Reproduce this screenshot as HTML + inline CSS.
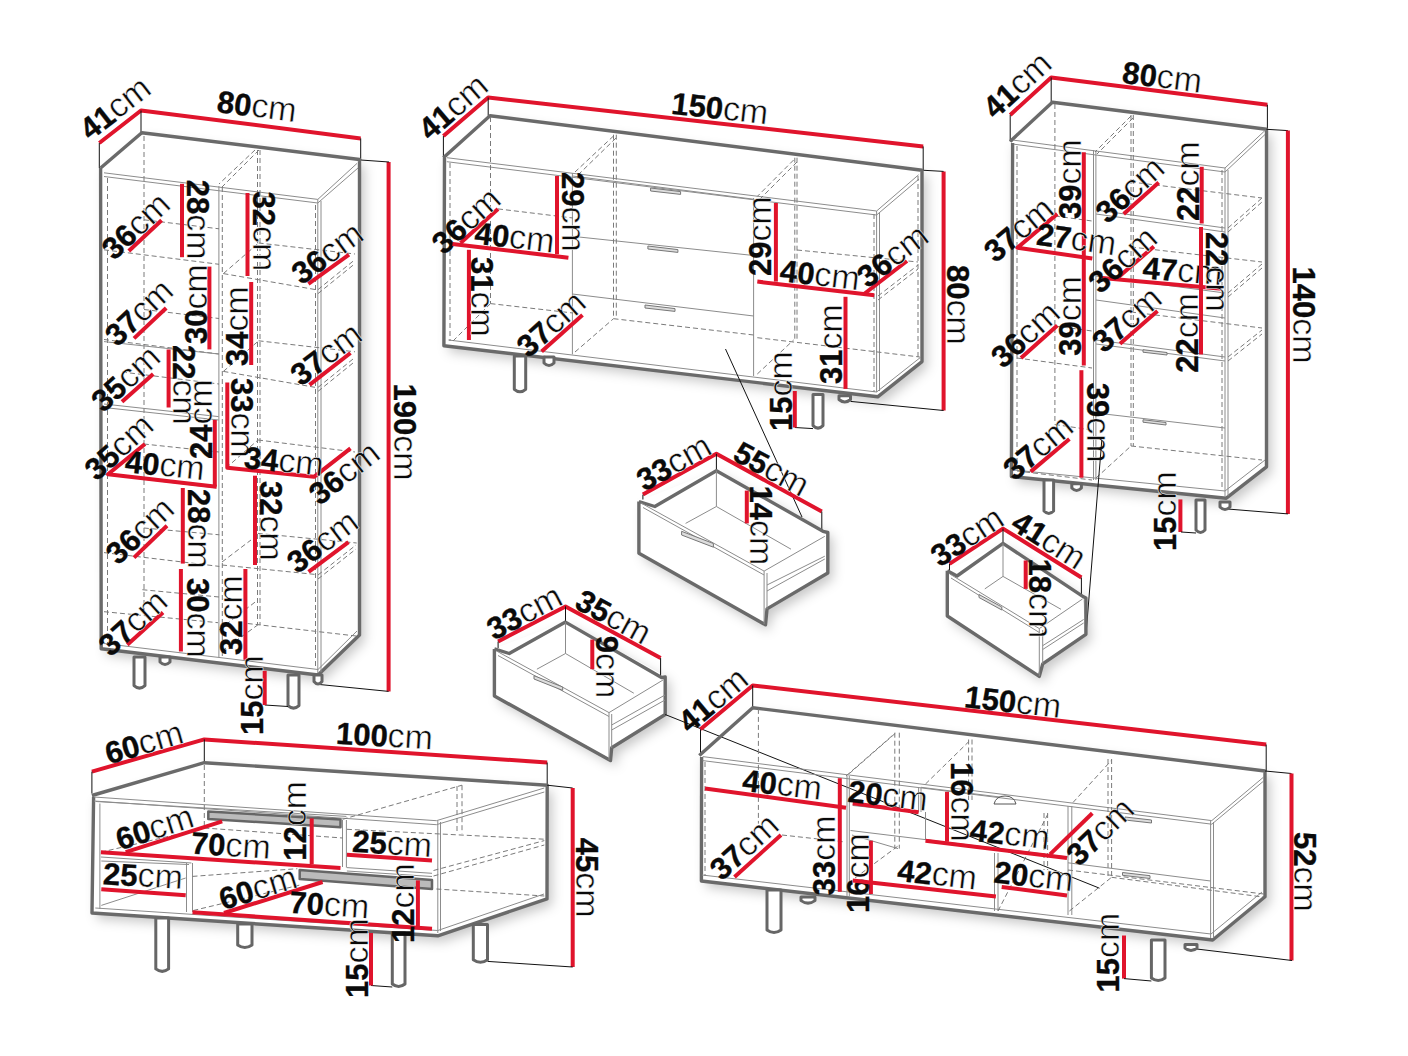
<!DOCTYPE html>
<html><head><meta charset="utf-8"><style>
html,body{margin:0;padding:0;background:#fff;}
svg{display:block;}
polyline,polygon,path{fill:none;stroke-linejoin:round;stroke-linecap:butt;}
.k{stroke:#6a6a6a;stroke-width:3.4;}
.s{stroke:#8c8c8c;stroke-width:1;}
.b{stroke:#111;stroke-width:1;}
.d{stroke:#7a7a7a;stroke-width:1;stroke-dasharray:5 3;}
.r{stroke:#e0142c;stroke-width:4;}
.leg{stroke:#666;stroke-width:3;fill:#fff;}
.h{stroke:#777;stroke-width:1;fill:#ddd;}
.w{fill:#fff;stroke:none;}
.sh{fill:#fff;stroke:none;filter:url(#ds);}
.slot{fill:#bbb;stroke:#666;stroke-width:2.5;}
text{font-family:"Liberation Sans",sans-serif;fill:#0a0a0a;text-anchor:middle;}
.n{font-weight:bold;stroke:#0a0a0a;stroke-width:0.35px;}
.c{font-weight:normal;stroke:#fff;stroke-width:0.5px;}
</style></head><body>
<svg width="1408" height="1056" viewBox="0 0 1408 1056">
<defs><filter id="ds" x="-20%" y="-20%" width="140%" height="140%"><feDropShadow dx="5" dy="6" stdDeviation="6" flood-color="#000" flood-opacity="0.22"/></filter></defs>
<polygon class="sh" points="100.6,168.0 141.8,132.8 359.5,159.5 359.5,635.0 318.0,675.0 101.2,648.8"/>
<polygon class="sh" points="443.4,157.7 490.0,115.7 922.0,170.2 922.0,361.6 877.7,396.8 443.9,345.7"/>
<polygon class="sh" points="1010.2,141.4 1052.4,102.3 1266.5,129.3 1266.5,466.8 1226.3,498.2 1011.4,476.5"/>
<polygon class="sh" points="91.9,795.5 204.3,762.7 547.2,785.2 547.0,898.9 437.8,935.8 92.0,913.0"/>
<polygon class="sh" points="699.3,755.5 752.7,707.7 1265.0,771.0 1265.0,896.8 1212.7,940.0 701.4,881.0"/>
<polygon class="sh" points="947.3,570.7 1003.0,543.4 1082.5,596.8 1085.9,634.3 1042.7,663.9 1039.3,676.4 947.3,616.0"/>
<polygon class="sh" points="638.9,501.5 716.4,470.7 827.8,532.3 827.8,573.0 767.0,608.9 764.1,624.8 638.9,553.2"/>
<polygon class="sh" points="494.4,648.9 565.5,622.1 665.2,676.6 665.2,714.5 611.7,747.7 611.7,760.6 494.4,696.0"/>
<polyline class="r" points="99.3,143.0 141.0,110.5 360.7,138.4"/>
<polyline class="b" points="99.3,143.0 99.3,168.0"/>
<polyline class="b" points="141.0,110.5 141.0,133.0"/>
<polyline class="b" points="360.7,138.4 360.7,160.0"/>
<polyline class="r" points="388.6,162.0 388.6,691.4"/>
<polyline class="b" points="360.7,160.0 389.0,162.0"/>
<polyline class="b" points="319.6,684.5 388.6,691.4"/>
<text transform="translate(115.0,108.0) rotate(-37.9)" x="0" y="11.1"><tspan class="n" style="font-size:31px">41</tspan><tspan class="c" style="font-size:34px">cm</tspan></text>
<text transform="translate(257.0,106.0) rotate(7.2)" x="0" y="11.1"><tspan class="n" style="font-size:31px">80</tspan><tspan class="c" style="font-size:34px">cm</tspan></text>
<text transform="translate(405.0,432.0) rotate(90.0)" x="0" y="11.1"><tspan class="n" style="font-size:31px">190</tspan><tspan class="c" style="font-size:34px">cm</tspan></text>
<polyline class="k" points="100.6,168.0 141.8,132.8 359.5,159.5 359.5,635.0 318.0,675.0 101.2,648.8 100.6,168.0"/>
<polyline class="s" points="104.0,172.8 317.8,199.4 357.0,163.4"/>
<polyline class="s" points="104.0,176.5 317.8,203.0 358.0,168.0"/>
<polyline class="s" points="317.8,199.4 317.8,673.0"/>
<polyline class="s" points="321.0,201.0 321.0,672.0"/>
<polyline class="s" points="104.0,643.5 318.0,669.5 357.0,631.0"/>
<polyline class="d" points="107.5,178.0 107.5,643.0"/>
<polyline class="d" points="144.0,136.0 144.0,612.0"/>
<polyline class="d" points="257.5,150.0 257.5,625.0"/>
<polyline class="d" points="260.0,150.0 260.0,625.0"/>
<polyline class="d" points="315.5,205.0 315.5,668.0"/>
<polyline class="s" points="218.9,186.0 218.9,657.0"/>
<polyline class="d" points="222.3,187.0 222.3,657.0"/>
<polyline class="d" points="259.0,150.0 222.0,187.0"/>
<polyline class="d" points="255.0,150.0 219.0,184.0"/>
<polyline class="d" points="104.0,249.8 219.0,264.3"/>
<polyline class="d" points="144.0,219.8 219.0,228.8"/>
<polyline class="d" points="104.0,339.5 219.0,354.0"/>
<polyline class="d" points="144.0,309.5 219.0,318.5"/>
<polyline class="s" points="104.0,341.6 218.6,354.0"/>
<polyline class="s" points="104.0,404.0 218.6,416.6"/>
<polyline class="s" points="104.0,407.5 218.6,420.0"/>
<polyline class="d" points="122.0,372.0 219.0,384.0"/>
<polyline class="s" points="101.0,474.0 216.6,488.0"/>
<polyline class="d" points="143.8,444.0 219.0,452.0"/>
<polyline class="d" points="104.0,552.6 219.3,566.4"/>
<polyline class="d" points="143.8,528.0 219.3,534.8"/>
<polyline class="d" points="104.0,611.7 218.0,622.7"/>
<polyline class="d" points="142.4,589.7 219.0,597.0"/>
<polyline class="d" points="223.4,273.6 315.5,289.6"/>
<polyline class="d" points="258.6,243.0 355.0,254.0"/>
<polyline class="d" points="223.4,273.6 258.6,243.0"/>
<polyline class="d" points="318.0,289.6 355.0,259.6"/>
<polyline class="d" points="318.0,293.6 355.0,263.6"/>
<polyline class="d" points="223.4,371.4 315.5,387.4"/>
<polyline class="d" points="258.6,340.8 355.0,351.8"/>
<polyline class="d" points="223.4,371.4 258.6,340.8"/>
<polyline class="d" points="318.0,387.4 355.0,357.4"/>
<polyline class="d" points="318.0,391.4 355.0,361.4"/>
<polyline class="d" points="222.0,565.0 316.9,574.6"/>
<polyline class="d" points="257.8,533.4 356.7,543.0"/>
<polyline class="d" points="219.3,629.6 257.8,600.0"/>
<polyline class="d" points="318.0,575.0 356.0,545.0"/>
<polyline class="d" points="318.0,579.0 356.0,549.0"/>
<polyline class="d" points="247.7,623.5 358.6,636.3"/>
<polyline class="d" points="222.0,651.0 259.7,623.5"/>
<polyline class="d" points="222.0,562.0 251.0,540.0"/>
<polyline class="d" points="226.0,468.0 258.0,440.0"/>
<polyline class="d" points="258.0,440.0 355.0,452.0"/>
<path class="leg" d="M134.0,657.0 L134.0,685.6 Q139.5,690.6 145.0,685.6 L145.0,657.0 Z"/>
<path class="leg" d="M160.0,657.0 L160.0,662.0 Q165.0,667.0 170.0,662.0 L170.0,657.0 Z"/>
<path class="leg" d="M288.0,675.0 L288.0,705.6 Q293.5,710.6 299.0,705.6 L299.0,675.0 Z"/>
<path class="leg" d="M314.0,675.0 L314.0,681.5 Q318.0,686.5 322.0,681.5 L322.0,675.0 Z"/>
<polyline class="b" points="264.7,705.0 288.0,706.5"/>
<polyline class="r" points="182.0,183.8 182.0,257.2"/>
<text transform="translate(198.3,219.7) rotate(90.0)" x="0" y="11.1"><tspan class="n" style="font-size:31px">28</tspan><tspan class="c" style="font-size:34px">cm</tspan></text>
<polyline class="r" points="247.5,193.0 247.5,276.0"/>
<text transform="translate(263.8,231.4) rotate(90.0)" x="0" y="11.1"><tspan class="n" style="font-size:31px">32</tspan><tspan class="c" style="font-size:34px">cm</tspan></text>
<polyline class="r" points="128.8,251.0 161.6,220.3"/>
<text transform="translate(135.6,226.0) rotate(-43.0)" x="0" y="11.1"><tspan class="n" style="font-size:31px">36</tspan><tspan class="c" style="font-size:34px">cm</tspan></text>
<polyline class="r" points="308.4,283.8 349.0,254.7"/>
<text transform="translate(327.2,253.0) rotate(-36.0)" x="0" y="11.1"><tspan class="n" style="font-size:31px">36</tspan><tspan class="c" style="font-size:34px">cm</tspan></text>
<polyline class="r" points="134.0,338.4 166.2,308.0"/>
<text transform="translate(138.8,312.5) rotate(-43.0)" x="0" y="11.1"><tspan class="n" style="font-size:31px">37</tspan><tspan class="c" style="font-size:34px">cm</tspan></text>
<polyline class="r" points="209.4,266.6 209.4,349.4"/>
<text transform="translate(196.0,304.0) rotate(-90.0)" x="0" y="11.1"><tspan class="n" style="font-size:31px">30</tspan><tspan class="c" style="font-size:34px">cm</tspan></text>
<polyline class="r" points="251.2,282.0 251.2,365.0"/>
<text transform="translate(237.0,326.0) rotate(-90.0)" x="0" y="11.1"><tspan class="n" style="font-size:31px">34</tspan><tspan class="c" style="font-size:34px">cm</tspan></text>
<polyline class="r" points="309.5,384.8 350.5,353.0"/>
<text transform="translate(326.0,354.0) rotate(-37.0)" x="0" y="11.1"><tspan class="n" style="font-size:31px">37</tspan><tspan class="c" style="font-size:34px">cm</tspan></text>
<polyline class="r" points="122.0,401.8 153.2,373.9"/>
<text transform="translate(125.5,378.6) rotate(-42.0)" x="0" y="11.1"><tspan class="n" style="font-size:31px">35</tspan><tspan class="c" style="font-size:34px">cm</tspan></text>
<polyline class="r" points="168.6,349.5 168.6,407.5"/>
<text transform="translate(184.0,385.0) rotate(90.0)" x="0" y="11.1"><tspan class="n" style="font-size:31px">22</tspan><tspan class="c" style="font-size:34px">cm</tspan></text>
<polyline class="r" points="214.8,420.0 214.8,486.7"/>
<text transform="translate(201.0,419.0) rotate(-90.0)" x="0" y="11.1"><tspan class="n" style="font-size:31px">24</tspan><tspan class="c" style="font-size:34px">cm</tspan></text>
<polyline class="r" points="227.3,382.5 227.3,467.7 314.0,476.8 350.5,448.4"/>
<text transform="translate(242.6,418.0) rotate(90.0)" x="0" y="11.1"><tspan class="n" style="font-size:31px">33</tspan><tspan class="c" style="font-size:34px">cm</tspan></text>
<text transform="translate(284.0,461.0) rotate(6.0)" x="0" y="11.1"><tspan class="n" style="font-size:31px">34</tspan><tspan class="c" style="font-size:34px">cm</tspan></text>
<polyline class="r" points="145.0,444.0 108.0,474.3 216.6,486.7"/>
<text transform="translate(165.0,465.0) rotate(6.0)" x="0" y="11.1"><tspan class="n" style="font-size:31px">40</tspan><tspan class="c" style="font-size:34px">cm</tspan></text>
<text transform="translate(118.6,447.0) rotate(-42.0)" x="0" y="11.1"><tspan class="n" style="font-size:31px">35</tspan><tspan class="c" style="font-size:34px">cm</tspan></text>
<text transform="translate(344.0,473.0) rotate(-38.0)" x="0" y="11.1"><tspan class="n" style="font-size:31px">36</tspan><tspan class="c" style="font-size:34px">cm</tspan></text>
<polyline class="r" points="182.8,488.0 182.8,563.6"/>
<text transform="translate(199.4,529.0) rotate(90.0)" x="0" y="11.1"><tspan class="n" style="font-size:31px">28</tspan><tspan class="c" style="font-size:34px">cm</tspan></text>
<polyline class="r" points="255.0,475.7 255.0,565.0"/>
<text transform="translate(270.8,521.0) rotate(90.0)" x="0" y="11.1"><tspan class="n" style="font-size:31px">32</tspan><tspan class="c" style="font-size:34px">cm</tspan></text>
<polyline class="r" points="134.0,557.6 167.0,525.7"/>
<text transform="translate(139.7,530.7) rotate(-43.0)" x="0" y="11.1"><tspan class="n" style="font-size:31px">36</tspan><tspan class="c" style="font-size:34px">cm</tspan></text>
<polyline class="r" points="308.6,571.9 348.5,542.2"/>
<text transform="translate(322.4,541.6) rotate(-37.0)" x="0" y="11.1"><tspan class="n" style="font-size:31px">36</tspan><tspan class="c" style="font-size:34px">cm</tspan></text>
<polyline class="r" points="127.3,644.7 163.0,612.5"/>
<text transform="translate(132.8,622.7) rotate(-42.0)" x="0" y="11.1"><tspan class="n" style="font-size:31px">37</tspan><tspan class="c" style="font-size:34px">cm</tspan></text>
<polyline class="r" points="180.9,569.0 180.9,651.5"/>
<text transform="translate(198.0,618.0) rotate(90.0)" x="0" y="11.1"><tspan class="n" style="font-size:31px">30</tspan><tspan class="c" style="font-size:34px">cm</tspan></text>
<polyline class="r" points="245.4,569.0 245.4,659.8"/>
<text transform="translate(231.0,615.0) rotate(-90.0)" x="0" y="11.1"><tspan class="n" style="font-size:31px">32</tspan><tspan class="c" style="font-size:34px">cm</tspan></text>
<polyline class="r" points="264.7,670.8 264.7,705.0"/>
<text transform="translate(252.0,695.0) rotate(-90.0)" x="0" y="11.1"><tspan class="n" style="font-size:31px">15</tspan><tspan class="c" style="font-size:34px">cm</tspan></text>
<polyline class="r" points="443.4,136.0 488.2,97.5 923.2,146.4"/>
<polyline class="b" points="443.4,136.0 443.4,157.7"/>
<polyline class="b" points="488.2,97.5 488.2,115.7"/>
<polyline class="b" points="923.2,146.4 923.2,170.2"/>
<polyline class="r" points="943.6,171.4 943.6,410.5"/>
<polyline class="b" points="922.0,170.2 943.6,171.4"/>
<polyline class="b" points="850.5,401.4 943.6,410.5"/>
<text transform="translate(453.0,107.0) rotate(-40.7)" x="0" y="11.1"><tspan class="n" style="font-size:31px">41</tspan><tspan class="c" style="font-size:34px">cm</tspan></text>
<text transform="translate(720.0,108.0) rotate(6.4)" x="0" y="11.1"><tspan class="n" style="font-size:31px">150</tspan><tspan class="c" style="font-size:34px">cm</tspan></text>
<text transform="translate(958.0,305.0) rotate(90.0)" x="0" y="11.1"><tspan class="n" style="font-size:31px">80</tspan><tspan class="c" style="font-size:34px">cm</tspan></text>
<polyline class="k" points="443.4,157.7 490.0,115.7 922.0,170.2 922.0,361.6 877.7,396.8 443.9,345.7 444.5,158.0"/>
<polyline class="s" points="446.8,157.7 876.6,211.0 918.6,174.8"/>
<polyline class="s" points="446.8,161.7 876.6,215.0 919.0,179.0"/>
<polyline class="s" points="876.6,211.0 876.6,392.0"/>
<polyline class="s" points="879.5,213.0 879.5,391.0"/>
<polyline class="s" points="448.4,340.0 876.6,392.0 921.0,357.0"/>
<polyline class="s" points="572.4,173.0 572.4,354.4"/>
<polyline class="s" points="753.6,198.0 753.6,376.0"/>
<polyline class="s" points="572.4,176.0 753.6,199.2"/>
<polyline class="s" points="572.4,236.3 753.6,255.5"/>
<polyline class="s" points="572.4,294.0 753.6,316.0"/>
<polygon class="h" points="650.6,188.0 680.6,191.6 680.6,194.4 650.6,191.0"/>
<polygon class="h" points="647.9,246.0 677.9,249.6 677.9,252.4 647.9,249.0"/>
<polygon class="h" points="645.0,305.0 675.0,308.6 675.0,311.4 645.0,308.0"/>
<polyline class="d" points="613.5,134.7 613.5,318.7"/>
<polyline class="d" points="616.3,134.7 616.3,318.7"/>
<polyline class="d" points="794.8,157.7 794.8,340.0"/>
<polyline class="d" points="797.0,157.7 797.0,340.0"/>
<polyline class="d" points="793.6,160.0 757.3,196.4"/>
<polyline class="d" points="797.0,162.0 760.0,199.0"/>
<polyline class="d" points="613.5,136.0 575.0,172.0"/>
<polyline class="d" points="616.0,138.0 578.0,175.0"/>
<polyline class="d" points="450.0,163.0 450.0,341.0"/>
<polyline class="d" points="490.5,117.0 490.5,303.6"/>
<polyline class="d" points="874.0,214.0 874.0,392.0"/>
<polyline class="d" points="918.0,176.0 918.0,357.0"/>
<polyline class="d" points="498.0,208.9 573.0,218.0"/>
<polyline class="d" points="490.5,303.6 573.0,313.0"/>
<polyline class="d" points="453.0,341.0 490.5,303.6"/>
<polyline class="d" points="797.0,250.0 918.0,262.0"/>
<polyline class="d" points="757.3,337.7 919.8,357.0"/>
<polyline class="d" points="757.3,374.0 793.6,340.0"/>
<polyline class="d" points="878.0,296.0 918.0,265.0"/>
<polyline class="d" points="878.0,300.0 918.0,269.0"/>
<polyline class="d" points="613.5,318.7 753.6,335.0"/>
<polyline class="d" points="575.0,352.0 613.5,318.7"/>
<path class="leg" d="M514.3,356.0 L514.3,389.3 Q520.0,394.3 525.7,389.3 L525.7,356.0 Z"/>
<path class="leg" d="M544.0,357.0 L544.0,363.0 Q549.0,368.0 554.0,363.0 L554.0,357.0 Z"/>
<path class="leg" d="M813.0,394.5 L813.0,425.6 Q818.0,430.6 823.0,425.6 L823.0,394.5 Z"/>
<path class="leg" d="M839.0,395.7 L839.0,399.5 Q844.8,404.5 850.5,399.5 L850.5,395.7 Z"/>
<polyline class="b" points="794.8,427.5 813.0,428.6"/>
<polyline class="r" points="557.0,176.0 557.0,254.3"/>
<text transform="translate(573.0,212.0) rotate(90.0)" x="0" y="11.1"><tspan class="n" style="font-size:31px">29</tspan><tspan class="c" style="font-size:34px">cm</tspan></text>
<polyline class="r" points="460.5,243.0 498.0,208.9"/>
<text transform="translate(466.0,220.7) rotate(-42.0)" x="0" y="11.1"><tspan class="n" style="font-size:31px">36</tspan><tspan class="c" style="font-size:34px">cm</tspan></text>
<polyline class="r" points="452.5,244.0 568.4,257.7"/>
<text transform="translate(514.8,237.0) rotate(6.7)" x="0" y="11.1"><tspan class="n" style="font-size:31px">40</tspan><tspan class="c" style="font-size:34px">cm</tspan></text>
<polyline class="r" points="468.9,249.8 468.9,340.0"/>
<text transform="translate(482.6,297.0) rotate(90.0)" x="0" y="11.1"><tspan class="n" style="font-size:31px">31</tspan><tspan class="c" style="font-size:34px">cm</tspan></text>
<polyline class="r" points="541.6,351.4 582.5,315.0"/>
<text transform="translate(551.0,324.0) rotate(-41.7)" x="0" y="11.1"><tspan class="n" style="font-size:31px">37</tspan><tspan class="c" style="font-size:34px">cm</tspan></text>
<polyline class="r" points="775.9,203.0 775.9,281.6"/>
<text transform="translate(759.6,236.0) rotate(-90.0)" x="0" y="11.1"><tspan class="n" style="font-size:31px">29</tspan><tspan class="c" style="font-size:34px">cm</tspan></text>
<polyline class="r" points="757.3,281.6 874.3,295.2"/>
<text transform="translate(820.0,274.7) rotate(6.7)" x="0" y="11.1"><tspan class="n" style="font-size:31px">40</tspan><tspan class="c" style="font-size:34px">cm</tspan></text>
<polyline class="r" points="864.0,294.0 907.0,261.0"/>
<text transform="translate(892.5,256.0) rotate(-37.5)" x="0" y="11.1"><tspan class="n" style="font-size:31px">36</tspan><tspan class="c" style="font-size:34px">cm</tspan></text>
<polyline class="r" points="845.5,296.8 845.5,388.9"/>
<text transform="translate(830.6,344.0) rotate(-90.0)" x="0" y="11.1"><tspan class="n" style="font-size:31px">31</tspan><tspan class="c" style="font-size:34px">cm</tspan></text>
<polyline class="r" points="794.8,391.0 794.8,427.5"/>
<text transform="translate(780.6,391.0) rotate(-90.0)" x="0" y="11.1"><tspan class="n" style="font-size:31px">15</tspan><tspan class="c" style="font-size:34px">cm</tspan></text>
<polyline class="b" points="725.5,349.0 802.0,517.0"/>
<polyline class="r" points="1010.2,114.9 1051.2,77.4 1267.4,104.7"/>
<polyline class="b" points="1010.2,114.9 1010.2,141.4"/>
<polyline class="b" points="1051.2,77.4 1051.2,102.8"/>
<polyline class="b" points="1267.4,104.7 1267.4,129.3"/>
<polyline class="k" points="1010.2,141.4 1052.4,102.3 1266.5,129.3 1266.5,466.8 1226.3,498.2 1011.4,476.5 1012.6,143.0"/>
<polyline class="b" points="1266.5,129.3 1287.9,130.6"/>
<polyline class="r" points="1287.9,130.6 1287.9,513.9"/>
<polyline class="b" points="1227.5,509.0 1287.9,513.9"/>
<polyline class="s" points="1013.8,140.2 1225.0,168.0 1265.0,130.5"/>
<polyline class="s" points="1013.8,144.2 1225.0,172.0 1265.0,134.5"/>
<polyline class="s" points="1225.0,168.0 1225.0,497.0"/>
<polyline class="s" points="1228.0,170.0 1228.0,496.0"/>
<polyline class="s" points="1013.8,470.0 1225.0,491.0 1265.0,460.0"/>
<polyline class="s" points="1093.5,150.0 1093.5,480.0"/>
<polyline class="s" points="1095.9,151.0 1095.9,480.0"/>
<text transform="translate(1017.0,85.0) rotate(-42.4)" x="0" y="11.1"><tspan class="n" style="font-size:31px">41</tspan><tspan class="c" style="font-size:34px">cm</tspan></text>
<text transform="translate(1162.3,76.7) rotate(7.2)" x="0" y="11.1"><tspan class="n" style="font-size:31px">80</tspan><tspan class="c" style="font-size:34px">cm</tspan></text>
<text transform="translate(1304.0,315.0) rotate(90.0)" x="0" y="11.1"><tspan class="n" style="font-size:31px">140</tspan><tspan class="c" style="font-size:34px">cm</tspan></text>
<polyline class="d" points="1054.9,104.0 1054.9,424.5"/>
<polyline class="d" points="1131.0,115.0 1131.0,446.0"/>
<polyline class="d" points="1133.3,115.0 1133.3,446.0"/>
<polyline class="d" points="1017.0,146.0 1017.0,470.0"/>
<polyline class="d" points="1131.0,116.0 1095.0,152.0"/>
<polyline class="d" points="1133.0,118.0 1097.0,154.0"/>
<polyline class="d" points="1222.0,170.0 1222.0,490.0"/>
<polyline class="d" points="1017.0,247.7 1092.0,258.0"/>
<polyline class="d" points="1054.9,216.0 1092.0,221.0"/>
<polyline class="d" points="1017.0,358.0 1092.0,368.0"/>
<polyline class="d" points="1054.9,326.0 1092.0,331.0"/>
<polyline class="d" points="1017.0,471.0 1092.0,480.0"/>
<polyline class="d" points="1054.9,424.5 1092.0,430.0"/>
<polyline class="s" points="1096.0,210.0 1225.0,228.0"/>
<polyline class="s" points="1096.0,214.0 1225.0,232.0"/>
<polyline class="d" points="1131.0,182.0 1262.0,198.0"/>
<polyline class="d" points="1228.0,228.0 1262.0,198.0"/>
<polyline class="d" points="1228.0,232.0 1262.0,202.0"/>
<polyline class="s" points="1096.0,276.0 1225.0,293.0"/>
<polyline class="d" points="1131.0,247.0 1262.0,262.0"/>
<polyline class="d" points="1228.0,293.0 1262.0,264.0"/>
<polyline class="d" points="1228.0,297.0 1262.0,268.0"/>
<polyline class="s" points="1096.0,300.0 1225.0,318.0"/>
<polyline class="s" points="1096.0,340.0 1225.0,357.0"/>
<polyline class="s" points="1096.0,344.0 1225.0,361.0"/>
<polyline class="d" points="1131.0,312.0 1262.0,328.0"/>
<polyline class="d" points="1228.0,357.0 1262.0,330.0"/>
<polyline class="d" points="1228.0,361.0 1262.0,334.0"/>
<polyline class="s" points="1096.0,413.0 1225.0,428.0"/>
<polyline class="d" points="1131.0,446.0 1262.0,460.0"/>
<polyline class="d" points="1096.0,478.0 1131.0,446.0"/>
<polygon class="h" points="1143.0,349.7 1167.0,352.5 1167.0,355.0 1143.0,352.2"/>
<polygon class="h" points="1143.0,419.7 1166.0,422.5 1166.0,425.0 1143.0,422.2"/>
<polyline class="r" points="1083.8,152.3 1083.8,365.4"/>
<text transform="translate(1070.0,179.0) rotate(-90.0)" x="0" y="11.1"><tspan class="n" style="font-size:31px">39</tspan><tspan class="c" style="font-size:34px">cm</tspan></text>
<text transform="translate(1070.0,315.8) rotate(-90.0)" x="0" y="11.1"><tspan class="n" style="font-size:31px">39</tspan><tspan class="c" style="font-size:34px">cm</tspan></text>
<polyline class="r" points="1057.3,213.9 1017.4,247.7 1092.3,258.5"/>
<text transform="translate(1076.5,239.0) rotate(8.0)" x="0" y="11.1"><tspan class="n" style="font-size:31px">27</tspan><tspan class="c" style="font-size:34px">cm</tspan></text>
<text transform="translate(1018.6,229.6) rotate(-40.0)" x="0" y="11.1"><tspan class="n" style="font-size:31px">37</tspan><tspan class="c" style="font-size:34px">cm</tspan></text>
<polyline class="r" points="1123.7,213.9 1158.7,182.5"/>
<text transform="translate(1129.7,189.7) rotate(-42.0)" x="0" y="11.1"><tspan class="n" style="font-size:31px">36</tspan><tspan class="c" style="font-size:34px">cm</tspan></text>
<polyline class="r" points="1201.7,166.8 1201.7,223.5"/>
<text transform="translate(1187.6,181.0) rotate(-90.0)" x="0" y="11.1"><tspan class="n" style="font-size:31px">22</tspan><tspan class="c" style="font-size:34px">cm</tspan></text>
<polyline class="r" points="1102.0,277.9 1221.5,288.7"/>
<polyline class="r" points="1118.9,276.7 1153.9,246.5"/>
<text transform="translate(1182.8,270.6) rotate(5.0)" x="0" y="11.1"><tspan class="n" style="font-size:31px">47</tspan><tspan class="c" style="font-size:34px">cm</tspan></text>
<text transform="translate(1122.5,259.7) rotate(-42.0)" x="0" y="11.1"><tspan class="n" style="font-size:31px">36</tspan><tspan class="c" style="font-size:34px">cm</tspan></text>
<polyline class="r" points="1201.0,227.0 1201.0,293.6"/>
<text transform="translate(1217.0,272.0) rotate(90.0)" x="0" y="11.1"><tspan class="n" style="font-size:31px">22</tspan><tspan class="c" style="font-size:34px">cm</tspan></text>
<polyline class="r" points="1201.0,289.3 1201.0,354.5"/>
<text transform="translate(1186.5,332.8) rotate(-90.0)" x="0" y="11.1"><tspan class="n" style="font-size:31px">22</tspan><tspan class="c" style="font-size:34px">cm</tspan></text>
<polyline class="r" points="1021.0,358.1 1057.3,325.5"/>
<text transform="translate(1025.2,334.5) rotate(-42.0)" x="0" y="11.1"><tspan class="n" style="font-size:31px">36</tspan><tspan class="c" style="font-size:34px">cm</tspan></text>
<polyline class="r" points="1120.0,343.7 1157.5,311.0"/>
<text transform="translate(1126.6,319.5) rotate(-41.0)" x="0" y="11.1"><tspan class="n" style="font-size:31px">37</tspan><tspan class="c" style="font-size:34px">cm</tspan></text>
<polyline class="r" points="1081.4,370.2 1081.4,477.7"/>
<text transform="translate(1097.8,422.7) rotate(90.0)" x="0" y="11.1"><tspan class="n" style="font-size:31px">39</tspan><tspan class="c" style="font-size:34px">cm</tspan></text>
<polyline class="r" points="1030.7,471.6 1069.4,439.0"/>
<text transform="translate(1038.0,447.5) rotate(-40.0)" x="0" y="11.1"><tspan class="n" style="font-size:31px">37</tspan><tspan class="c" style="font-size:34px">cm</tspan></text>
<path class="leg" d="M1044.0,480.0 L1044.0,510.9 Q1048.8,515.9 1053.6,510.9 L1053.6,480.0 Z"/>
<path class="leg" d="M1071.8,483.7 L1071.8,488.0 Q1076.6,493.0 1081.4,488.0 L1081.4,483.7 Z"/>
<path class="leg" d="M1196.0,500.0 L1196.0,530.0 Q1200.5,535.0 1205.0,530.0 L1205.0,500.0 Z"/>
<path class="leg" d="M1220.0,502.0 L1220.0,507.0 Q1225.0,512.0 1230.0,507.0 L1230.0,502.0 Z"/>
<polyline class="r" points="1180.4,499.4 1180.4,532.0"/>
<text transform="translate(1165.3,511.0) rotate(-90.0)" x="0" y="11.1"><tspan class="n" style="font-size:31px">15</tspan><tspan class="c" style="font-size:34px">cm</tspan></text>
<polyline class="b" points="1181.0,532.0 1196.0,533.0"/>
<polyline class="b" points="1101.8,440.0 1086.0,634.3"/>
<polygon class="w" points="947.3,570.7 1003.0,543.4 1082.5,596.8 1085.9,634.3 1042.7,663.9 1039.3,676.4 947.3,616.0"/>
<polyline class="r" points="949.5,563.9 1003.0,528.6 1081.4,577.5"/>
<polyline class="b" points="949.5,563.9 949.5,570.7"/>
<polyline class="b" points="1003.0,528.6 1003.0,543.4"/>
<polyline class="b" points="1081.4,577.5 1081.4,596.8"/>
<polyline class="k" points="947.3,570.7 957.0,576.0 1003.0,543.4 1083.5,596.8 1085.9,598.0 1085.9,634.3 1042.7,663.9 1039.3,676.4 947.3,616.0 947.3,570.7"/>
<polyline class="s" points="949.5,573.8 1039.3,628.6 1082.5,599.0"/>
<polyline class="s" points="951.0,578.0 1039.3,632.5"/>
<polyline class="s" points="1039.3,628.6 1039.3,676.0"/>
<polyline class="s" points="1042.7,630.0 1042.7,664.0"/>
<polyline class="s" points="1003.0,543.4 1003.0,576.4 984.8,588.9"/>
<polyline class="s" points="1003.0,576.4 1061.0,609.3"/>
<polyline class="s" points="1042.7,645.7 1083.6,619.5"/>
<polyline class="s" points="1042.7,649.5 1083.6,623.0"/>
<polygon class="h" points="979.0,594.5 1001.8,607.0 1001.8,610.0 979.0,597.5"/>
<text transform="translate(967.0,536.6) rotate(-33.4)" x="0" y="11.1"><tspan class="n" style="font-size:31px">33</tspan><tspan class="c" style="font-size:34px">cm</tspan></text>
<text transform="translate(1049.0,540.0) rotate(32.5)" x="0" y="11.1"><tspan class="n" style="font-size:31px">41</tspan><tspan class="c" style="font-size:34px">cm</tspan></text>
<polyline class="r" points="1025.7,560.5 1025.7,588.9"/>
<text transform="translate(1040.4,598.5) rotate(90.0)" x="0" y="11.1"><tspan class="n" style="font-size:31px">18</tspan><tspan class="c" style="font-size:34px">cm</tspan></text>
<polygon class="w" points="638.9,501.5 716.4,470.7 827.8,532.3 827.8,573.0 767.0,608.9 764.1,624.8 638.9,553.2"/>
<polyline class="r" points="642.9,494.6 716.4,453.8 821.8,511.5"/>
<polyline class="b" points="642.9,494.6 642.9,499.5"/>
<polyline class="b" points="716.4,453.8 716.4,470.7"/>
<polyline class="b" points="821.8,511.5 821.8,531.3"/>
<polyline class="k" points="638.9,501.5 654.8,506.5 716.4,470.7 823.0,531.3 827.8,532.5 827.8,573.0 767.0,608.9 765.5,624.8 638.9,553.2 638.9,501.5"/>
<polyline class="s" points="641.0,503.0 764.1,571.1 824.8,536.3"/>
<polyline class="s" points="643.0,507.5 764.1,575.0"/>
<polyline class="s" points="764.1,571.1 764.1,624.0"/>
<polyline class="s" points="767.0,573.0 767.0,609.0"/>
<polyline class="s" points="716.4,470.7 716.4,506.5 685.6,523.4"/>
<polyline class="s" points="716.4,506.5 791.0,549.2"/>
<polyline class="s" points="767.0,585.0 824.8,556.2"/>
<polyline class="s" points="767.0,591.0 824.8,559.0"/>
<polygon class="h" points="681.6,531.3 713.4,543.5 713.4,547.2 681.6,535.0"/>
<text transform="translate(673.7,462.7) rotate(-29.0)" x="0" y="11.1"><tspan class="n" style="font-size:31px">33</tspan><tspan class="c" style="font-size:34px">cm</tspan></text>
<text transform="translate(771.5,468.7) rotate(28.7)" x="0" y="11.1"><tspan class="n" style="font-size:31px">55</tspan><tspan class="c" style="font-size:34px">cm</tspan></text>
<polyline class="r" points="746.8,490.6 746.8,523.4"/>
<text transform="translate(761.6,525.4) rotate(90.0)" x="0" y="11.1"><tspan class="n" style="font-size:31px">14</tspan><tspan class="c" style="font-size:34px">cm</tspan></text>
<polygon class="w" points="494.4,648.9 565.5,622.1 665.2,676.6 665.2,714.5 611.7,747.7 611.7,760.6 494.4,696.0"/>
<polyline class="r" points="498.1,641.5 565.5,606.4 660.6,658.1"/>
<polyline class="b" points="498.1,641.5 498.1,648.0"/>
<polyline class="b" points="565.5,606.4 565.5,622.1"/>
<polyline class="b" points="660.6,658.1 660.6,677.5"/>
<polyline class="k" points="494.4,648.9 509.2,653.5 565.5,622.1 661.5,677.5 665.2,677.0 665.2,714.5 611.7,747.7 610.5,760.6 494.4,696.0 494.4,648.9"/>
<polyline class="s" points="496.5,651.0 609.0,712.6 663.0,680.0"/>
<polyline class="s" points="498.0,655.5 609.0,716.5"/>
<polyline class="s" points="609.0,712.6 609.0,760.0"/>
<polyline class="s" points="611.7,714.0 611.7,748.0"/>
<polyline class="s" points="565.5,622.1 565.5,653.5 536.9,669.2"/>
<polyline class="s" points="565.5,653.5 633.8,693.2"/>
<polyline class="s" points="611.7,725.0 665.0,695.0"/>
<polyline class="s" points="611.7,730.0 665.0,700.0"/>
<polygon class="h" points="534.0,675.7 562.7,687.0 562.7,690.4 534.0,679.0"/>
<text transform="translate(524.3,612.3) rotate(-27.6)" x="0" y="11.1"><tspan class="n" style="font-size:31px">33</tspan><tspan class="c" style="font-size:34px">cm</tspan></text>
<text transform="translate(613.5,616.6) rotate(28.5)" x="0" y="11.1"><tspan class="n" style="font-size:31px">35</tspan><tspan class="c" style="font-size:34px">cm</tspan></text>
<polyline class="r" points="592.3,639.6 592.3,669.2"/>
<text transform="translate(607.0,667.0) rotate(90.0)" x="0" y="11.1"><tspan class="n" style="font-size:31px">9</tspan><tspan class="c" style="font-size:34px">cm</tspan></text>
<polyline class="b" points="665.2,714.5 1099.5,888.2"/>
<polyline class="r" points="91.9,771.6 204.3,739.4 547.2,762.5"/>
<polyline class="b" points="91.9,771.6 91.9,793.5"/>
<polyline class="b" points="204.3,739.4 204.3,762.7"/>
<polyline class="b" points="547.2,762.5 547.2,785.2"/>
<polyline class="k" points="91.9,795.5 204.3,762.7 547.2,785.2 547.0,898.9 437.8,935.8 92.0,913.0 93.6,797.0"/>
<polyline class="b" points="547.2,785.2 572.7,788.0"/>
<polyline class="r" points="572.7,788.0 572.7,967.0"/>
<polyline class="b" points="487.5,961.4 572.7,967.0"/>
<polyline class="s" points="94.0,797.0 436.4,820.7 544.3,788.0"/>
<polyline class="s" points="94.0,801.0 436.4,824.7 544.3,792.0"/>
<polyline class="s" points="437.8,820.7 437.8,933.0"/>
<polyline class="s" points="440.5,822.0 440.5,931.0"/>
<polyline class="s" points="95.3,908.0 437.8,930.5 544.0,894.0"/>
<polyline class="s" points="95.9,801.5 346.4,816.4"/>
<polyline class="s" points="99.9,803.5 99.9,908.8"/>
<polyline class="s" points="100.9,857.0 191.4,863.0"/>
<polyline class="s" points="101.3,861.0 189.0,864.5"/>
<polyline class="s" points="186.5,863.0 186.5,912.0"/>
<polyline class="s" points="192.5,863.0 192.5,912.0"/>
<polyline class="s" points="101.3,905.4 185.7,878.0"/>
<polyline class="s" points="342.5,820.0 342.5,867.0"/>
<polyline class="s" points="346.4,820.0 346.4,867.6"/>
<polyline class="s" points="346.9,867.6 432.0,873.3"/>
<polyline class="s" points="346.9,871.0 432.0,876.5"/>
<polygon class="slot" points="208.3,811.4 340.5,819.4 340.5,827.3 208.3,819.0"/>
<polygon class="slot" points="299.7,870.0 432.0,880.0 432.0,889.0 299.7,879.0"/>
<polyline class="d" points="204.3,765.0 204.3,828.0"/>
<polyline class="d" points="342.6,819.3 462.0,785.2"/>
<polyline class="d" points="462.0,785.2 462.0,833.5"/>
<polyline class="d" points="457.0,786.0 457.0,834.0"/>
<polyline class="d" points="346.9,829.3 544.3,839.2"/>
<polyline class="d" points="433.5,870.5 544.3,840.6"/>
<polyline class="d" points="433.5,876.0 544.3,845.0"/>
<polyline class="d" points="436.4,889.0 544.3,896.0"/>
<polyline class="d" points="192.5,876.4 297.3,868.7"/>
<polyline class="d" points="193.3,910.5 300.0,885.0"/>
<polyline class="d" points="100.9,852.2 204.3,828.0"/>
<polyline class="d" points="204.3,828.0 342.6,838.0"/>
<path class="leg" d="M155.8,918.0 L155.8,968.9 Q162.2,973.9 168.6,968.9 L168.6,918.0 Z"/>
<path class="leg" d="M237.7,924.0 L237.7,945.0 Q244.8,950.0 252.0,945.0 L252.0,924.0 Z"/>
<path class="leg" d="M392.3,933.0 L392.3,984.0 Q398.6,989.0 405.0,984.0 L405.0,933.0 Z"/>
<path class="leg" d="M473.3,924.4 L473.3,959.8 Q480.4,964.8 487.5,959.8 L487.5,924.4 Z"/>
<polyline class="b" points="371.0,985.5 392.3,987.0"/>
<text transform="translate(144.0,742.8) rotate(-16.0)" x="0" y="11.1"><tspan class="n" style="font-size:31px">60</tspan><tspan class="c" style="font-size:34px">cm</tspan></text>
<text transform="translate(384.6,735.5) rotate(3.5)" x="0" y="11.1"><tspan class="n" style="font-size:31px">100</tspan><tspan class="c" style="font-size:34px">cm</tspan></text>
<text transform="translate(587.6,877.6) rotate(90.0)" x="0" y="11.1"><tspan class="n" style="font-size:31px">45</tspan><tspan class="c" style="font-size:34px">cm</tspan></text>
<polyline class="r" points="125.7,852.2 222.2,821.4"/>
<text transform="translate(154.6,827.7) rotate(-17.7)" x="0" y="11.1"><tspan class="n" style="font-size:31px">60</tspan><tspan class="c" style="font-size:34px">cm</tspan></text>
<polyline class="r" points="100.9,852.2 340.5,868.0"/>
<text transform="translate(231.0,845.2) rotate(4.0)" x="0" y="11.1"><tspan class="n" style="font-size:31px">70</tspan><tspan class="c" style="font-size:34px">cm</tspan></text>
<polyline class="r" points="311.7,818.4 311.7,864.0"/>
<text transform="translate(294.7,820.8) rotate(-90.0)" x="0" y="11.1"><tspan class="n" style="font-size:31px">12</tspan><tspan class="c" style="font-size:34px">cm</tspan></text>
<polyline class="r" points="101.3,889.2 185.7,895.2"/>
<text transform="translate(143.0,875.5) rotate(3.4)" x="0" y="11.1"><tspan class="n" style="font-size:31px">25</tspan><tspan class="c" style="font-size:34px">cm</tspan></text>
<polyline class="r" points="224.0,913.0 322.6,882.0"/>
<text transform="translate(258.0,888.0) rotate(-17.0)" x="0" y="11.1"><tspan class="n" style="font-size:31px">60</tspan><tspan class="c" style="font-size:34px">cm</tspan></text>
<polyline class="r" points="192.5,912.2 432.0,928.7"/>
<text transform="translate(329.4,904.5) rotate(4.0)" x="0" y="11.1"><tspan class="n" style="font-size:31px">70</tspan><tspan class="c" style="font-size:34px">cm</tspan></text>
<polyline class="r" points="346.9,854.8 432.0,860.5"/>
<text transform="translate(392.3,843.4) rotate(3.8)" x="0" y="11.1"><tspan class="n" style="font-size:31px">25</tspan><tspan class="c" style="font-size:34px">cm</tspan></text>
<polyline class="r" points="417.9,880.4 417.9,927.3"/>
<text transform="translate(402.5,903.0) rotate(-90.0)" x="0" y="11.1"><tspan class="n" style="font-size:31px">12</tspan><tspan class="c" style="font-size:34px">cm</tspan></text>
<polyline class="r" points="371.0,933.0 371.0,985.5"/>
<text transform="translate(357.0,958.0) rotate(-90.0)" x="0" y="11.1"><tspan class="n" style="font-size:31px">15</tspan><tspan class="c" style="font-size:34px">cm</tspan></text>
<polyline class="r" points="700.5,729.3 752.7,685.5 1266.2,744.5"/>
<polyline class="b" points="700.5,729.3 700.5,754.3"/>
<polyline class="b" points="752.7,685.5 752.7,707.7"/>
<polyline class="b" points="1266.2,744.5 1266.2,771.0"/>
<polyline class="k" points="699.3,755.5 752.7,707.7 1265.0,771.0 1265.0,896.8 1212.7,940.0 701.4,881.0 701.6,757.0"/>
<polyline class="b" points="1265.0,771.0 1291.5,773.5"/>
<polyline class="r" points="1291.5,773.5 1291.5,960.5"/>
<polyline class="b" points="1196.8,949.0 1292.0,960.5"/>
<polyline class="s" points="702.7,756.6 1211.8,820.6 1263.7,777.0"/>
<polyline class="s" points="702.7,760.6 1211.8,824.2 1263.7,781.0"/>
<polyline class="s" points="1210.6,820.6 1210.6,938.0"/>
<polyline class="s" points="1213.5,822.0 1213.5,937.0"/>
<polyline class="s" points="702.0,875.0 1211.0,934.0 1262.0,892.0"/>
<text transform="translate(713.0,700.0) rotate(-40.0)" x="0" y="11.1"><tspan class="n" style="font-size:31px">41</tspan><tspan class="c" style="font-size:34px">cm</tspan></text>
<text transform="translate(1013.0,701.5) rotate(6.6)" x="0" y="11.1"><tspan class="n" style="font-size:31px">150</tspan><tspan class="c" style="font-size:34px">cm</tspan></text>
<text transform="translate(1305.4,872.0) rotate(90.0)" x="0" y="11.1"><tspan class="n" style="font-size:31px">52</tspan><tspan class="c" style="font-size:34px">cm</tspan></text>
<polyline class="d" points="758.4,708.9 758.4,823.6"/>
<polyline class="d" points="705.0,762.0 705.0,876.0"/>
<polyline class="s" points="847.0,776.0 847.0,896.4"/>
<polyline class="s" points="849.3,776.0 849.3,896.4"/>
<polyline class="d" points="849.3,773.6 896.0,732.7"/>
<polyline class="d" points="846.0,776.0 893.0,735.0"/>
<polyline class="d" points="894.8,732.7 894.8,848.6"/>
<polyline class="d" points="899.3,732.7 899.3,848.6"/>
<polyline class="s" points="852.7,805.5 918.6,812.3"/>
<polyline class="s" points="918.6,787.0 918.6,812.0"/>
<polyline class="s" points="921.0,787.3 921.0,812.0"/>
<polyline class="s" points="921.0,787.3 1000.0,797.0"/>
<polyline class="s" points="850.5,830.5 1068.0,857.0"/>
<polyline class="s" points="852.0,835.0 898.0,848.6"/>
<polyline class="d" points="925.5,784.0 968.6,741.8"/>
<polyline class="d" points="968.6,739.5 968.6,800.0"/>
<polyline class="d" points="972.0,739.5 972.0,800.0"/>
<polyline class="s" points="925.5,812.0 925.5,840.0"/>
<polyline class="d" points="855.0,878.0 898.0,846.0"/>
<polyline class="d" points="782.0,835.0 843.6,841.8"/>
<polyline class="d" points="1108.0,759.0 1108.0,877.3"/>
<polyline class="d" points="1111.6,759.0 1111.6,877.3"/>
<polyline class="d" points="1073.0,802.5 1111.6,760.2"/>
<polyline class="s" points="1068.0,806.0 1068.0,915.0"/>
<polyline class="s" points="1071.8,806.0 1071.8,915.0"/>
<polyline class="s" points="1068.0,862.8 1210.6,881.0"/>
<polyline class="d" points="1068.0,870.0 1263.7,894.0"/>
<polyline class="d" points="1069.4,911.0 1111.6,877.3"/>
<polyline class="d" points="1111.6,877.3 1263.0,897.0"/>
<polyline class="s" points="994.5,853.0 994.5,911.0"/>
<polyline class="s" points="998.0,853.0 998.0,911.0"/>
<polyline class="d" points="998.0,911.0 1047.6,814.6"/>
<polyline class="d" points="1044.0,813.0 1044.0,870.0"/>
<polyline class="d" points="1047.6,813.0 1047.6,870.0"/>
<polygon class="h" points="1125.0,817.0 1151.5,820.0 1151.5,823.0 1125.0,820.0"/>
<polygon class="h" points="1122.5,872.5 1150.0,875.7 1150.0,878.5 1122.5,875.3"/>
<path d="M994,804 Q996,796 1005,796 Q1014,796 1016,804 Z" fill="#666" stroke="#555" stroke-width="1"/>
<path class="leg" d="M767.0,890.0 L767.0,930.0 Q774.0,935.0 781.0,930.0 L781.0,890.0 Z"/>
<path class="leg" d="M801.0,897.0 L801.0,900.6 Q808.0,905.6 815.0,900.6 L815.0,897.0 Z"/>
<path class="leg" d="M1151.4,940.0 L1151.4,978.0 Q1158.2,983.0 1165.0,978.0 L1165.0,940.0 Z"/>
<path class="leg" d="M1185.0,944.5 L1185.0,948.0 Q1191.0,953.0 1197.0,948.0 L1197.0,944.5 Z"/>
<polyline class="r" points="1124.0,935.5 1124.0,978.6"/>
<polyline class="b" points="1124.0,978.6 1151.4,981.0"/>
<text transform="translate(1108.0,952.5) rotate(-90.0)" x="0" y="11.1"><tspan class="n" style="font-size:31px">15</tspan><tspan class="c" style="font-size:34px">cm</tspan></text>
<polyline class="r" points="705.0,788.4 846.0,807.7"/>
<text transform="translate(782.3,784.3) rotate(6.5)" x="0" y="11.1"><tspan class="n" style="font-size:31px">40</tspan><tspan class="c" style="font-size:34px">cm</tspan></text>
<polyline class="r" points="839.8,778.2 839.8,891.8"/>
<text transform="translate(824.3,855.4) rotate(-90.0)" x="0" y="11.1"><tspan class="n" style="font-size:31px">33</tspan><tspan class="c" style="font-size:34px">cm</tspan></text>
<polyline class="r" points="734.5,877.0 781.0,835.0"/>
<text transform="translate(744.0,846.8) rotate(-42.0)" x="0" y="11.1"><tspan class="n" style="font-size:31px">37</tspan><tspan class="c" style="font-size:34px">cm</tspan></text>
<polyline class="r" points="852.7,803.2 918.6,812.3"/>
<text transform="translate(888.0,795.3) rotate(6.5)" x="0" y="11.1"><tspan class="n" style="font-size:31px">20</tspan><tspan class="c" style="font-size:34px">cm</tspan></text>
<polyline class="r" points="947.0,791.8 947.0,841.8"/>
<polyline class="r" points="925.5,840.7 1067.0,858.0"/>
<text transform="translate(961.8,802.0) rotate(90.0)" x="0" y="11.1"><tspan class="n" style="font-size:31px">16</tspan><tspan class="c" style="font-size:34px">cm</tspan></text>
<text transform="translate(1010.0,834.0) rotate(6.5)" x="0" y="11.1"><tspan class="n" style="font-size:31px">42</tspan><tspan class="c" style="font-size:34px">cm</tspan></text>
<polyline class="r" points="870.9,840.7 870.9,894.0"/>
<text transform="translate(858.0,873.0) rotate(-90.0)" x="0" y="11.1"><tspan class="n" style="font-size:31px">16</tspan><tspan class="c" style="font-size:34px">cm</tspan></text>
<polyline class="r" points="852.7,880.5 995.9,896.4"/>
<text transform="translate(937.3,874.2) rotate(6.5)" x="0" y="11.1"><tspan class="n" style="font-size:31px">42</tspan><tspan class="c" style="font-size:34px">cm</tspan></text>
<polyline class="r" points="1050.0,854.4 1092.3,813.3"/>
<text transform="translate(1100.0,831.5) rotate(-44.0)" x="0" y="11.1"><tspan class="n" style="font-size:31px">37</tspan><tspan class="c" style="font-size:34px">cm</tspan></text>
<polyline class="r" points="1001.7,887.0 1067.0,895.4"/>
<text transform="translate(1033.8,876.0) rotate(6.5)" x="0" y="11.1"><tspan class="n" style="font-size:31px">20</tspan><tspan class="c" style="font-size:34px">cm</tspan></text>
</svg>
</body></html>
